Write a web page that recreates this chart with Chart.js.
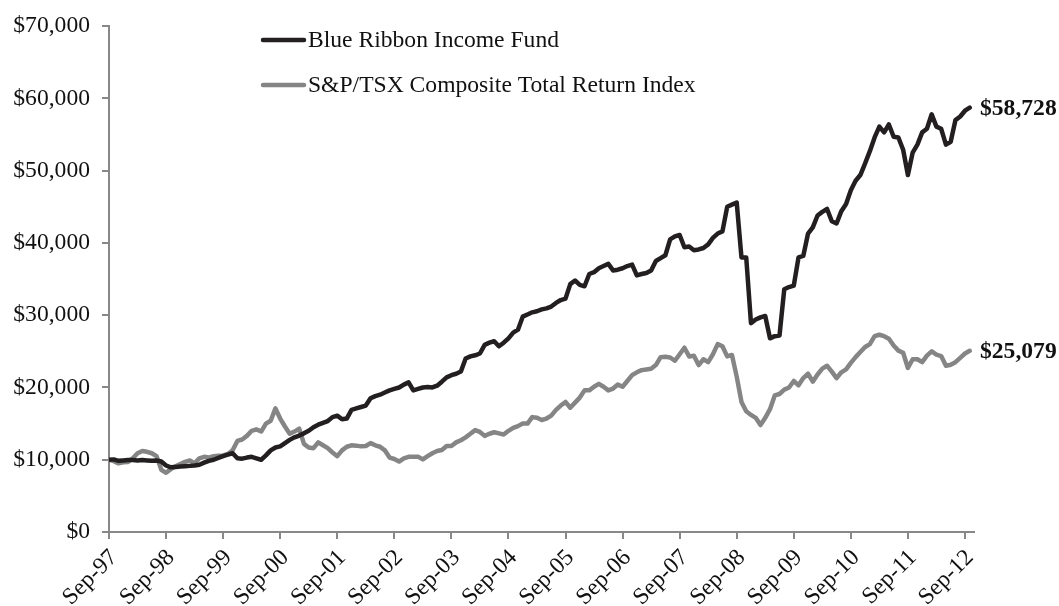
<!DOCTYPE html>
<html>
<head>
<meta charset="utf-8">
<script src="https://cdn.jsdelivr.net/npm/chart.js@4.4.1/dist/chart.umd.min.js"></script>
<style>
html,body{margin:0;padding:0;background:#fff;}
#wrap{width:1059px;height:606px;position:relative;}
</style>
</head>
<body>
<div id="wrap"><canvas id="c" width="1059" height="606"></canvas></div>
<script>
// Monthly values, Sep-97 .. Oct-12
const seriesNames = ['Blue Ribbon Income Fund', 'S&P/TSX Composite Total Return Index'];
const tickLabels = ['Sep-97','Sep-98','Sep-99','Sep-00','Sep-01','Sep-02','Sep-03','Sep-04','Sep-05','Sep-06','Sep-07','Sep-08','Sep-09','Sep-10','Sep-11','Sep-12'];
const fundValues = [
10000,10050,9850,9900,9950,9950,9900,9950,9900,9850,9900,9750,
9200,8950,9000,9050,9100,9150,9200,9300,9600,9850,10000,10250,
10500,10700,10900,10200,10150,10300,10400,10200,10000,10600,11300,11700,
11850,12300,12750,13100,13350,13650,14000,14500,14850,15100,15350,15900,
16100,15600,15700,16900,17100,17300,17500,18500,18800,19000,19300,19600,
19800,20000,20400,20700,19600,19800,20000,20050,20000,20250,20800,21400,
21700,21900,22200,24000,24300,24450,24700,25900,26200,26400,25700,26200,
26800,27600,28000,29800,30100,30400,30550,30800,30950,31200,31700,32100,
32300,34300,34800,34200,34000,35700,35950,36500,36800,37100,36200,36300,
36500,36800,37000,35500,35700,35850,36200,37500,37900,38300,40500,40900,
41100,39400,39500,39000,39100,39300,39800,40700,41300,41600,45000,45300,
45600,38000,38000,28900,29400,29700,29900,26800,27100,27200,33600,33900,
34100,38000,38200,41300,42150,43800,44300,44700,43000,42700,44400,45400,
47300,48600,49400,51000,52700,54600,56100,55300,56400,54700,54600,52900,
49400,52500,53600,55300,55800,57800,56100,55800,53600,54000,57000,57500,
58300,58728
];
const indexValues = [
10000,9800,9500,9650,9700,10200,10900,11200,11100,10900,10500,8600,
8200,8700,9100,9400,9700,9900,9500,10200,10400,10300,10500,10550,
10600,10800,11300,12600,12800,13300,14000,14200,13900,15000,15400,17100,
15700,14600,13600,13900,14300,12200,11700,11600,12400,12000,11600,11000,
10500,11300,11800,12000,11950,11850,11900,12300,12000,11800,11300,10300,
10100,9750,10200,10400,10400,10400,10050,10500,10900,11200,11350,11900,
11900,12400,12700,13100,13600,14100,13850,13300,13600,13800,13650,13500,
14000,14400,14650,15000,15000,15900,15800,15500,15700,16100,16900,17500,
18000,17200,17900,18600,19600,19600,20100,20500,20100,19600,19850,20400,
20100,20900,21700,22100,22400,22500,22600,23100,24200,24250,24150,23700,
24600,25500,24300,24400,23100,23900,23500,24600,26000,25700,24300,24500,
21500,18000,16700,16200,15800,14800,15800,17000,18900,19100,19700,20000,
20900,20300,21300,21900,20800,21800,22600,23000,22200,21300,22100,22500,
23400,24200,24900,25600,26000,27100,27300,27100,26750,25800,25100,24800,
22700,23900,23900,23500,24400,25000,24550,24350,23000,23150,23500,24100,
24700,25079
];
const endLabels = ['$58,728', '$25,079'];

const FONT = "'Liberation Serif', 'Times New Roman', serif";
const FS = 23.6;
const colors = ['#231f20', '#858585'];

const toPoints = arr => arr.map((v, i) => ({x: i, y: v}));

const overlay = {
  id: 'overlay',
  afterDraw(chart) {
    const ctx = chart.ctx;
    const ys = chart.scales.y;
    ctx.save();
    const rows = [40, 85];
    seriesNames.forEach((name, i) => {
      ctx.strokeStyle = colors[i];
      ctx.lineWidth = 4.5;
      ctx.lineCap = 'round';
      ctx.beginPath();
      ctx.moveTo(263, rows[i]);
      ctx.lineTo(304, rows[i]);
      ctx.stroke();
      ctx.fillStyle = '#111';
      ctx.font = FS + 'px ' + FONT;
      ctx.textBaseline = 'middle';
      ctx.textAlign = 'left';
      ctx.fillText(name, 308, rows[i] + 1);
    });
    const lasts = [fundValues[fundValues.length - 1], indexValues[indexValues.length - 1]];
    ctx.font = 'bold ' + FS + 'px ' + FONT;
    ctx.fillStyle = '#111';
    lasts.forEach((v, i) => {
      ctx.fillText(endLabels[i], 980, ys.getPixelForValue(v) + 1);
    });
    ctx.restore();
  }
};

new Chart(document.getElementById('c'), {
  type: 'line',
  data: {
    datasets: [
      {label: seriesNames[0], data: toPoints(fundValues), borderColor: colors[0], borderWidth: 4.5, pointRadius: 0, tension: 0, borderJoinStyle: 'round', borderCapStyle: 'round'},
      {label: seriesNames[1], data: toPoints(indexValues), borderColor: colors[1], borderWidth: 4.5, pointRadius: 0, tension: 0, borderJoinStyle: 'round', borderCapStyle: 'round'}
    ]
  },
  options: {
    responsive: false,
    animation: false,
    layout: {padding: {top: 25, right: 85, left: 0, bottom: 0}},
    plugins: {legend: {display: false}, tooltip: {enabled: false}},
    scales: {
      x: {
        type: 'linear',
        min: 0,
        max: 181.9,
        afterBuildTicks(scale) {
          scale.ticks = tickLabels.map((t, i) => ({value: i * 12}));
        },
        afterFit(scale) { scale.height = 74; },
        grid: {drawOnChartArea: false, drawTicks: true, tickLength: 7, color: '#888', lineWidth: 2},
        border: {display: true, color: '#888', width: 2},
        ticks: {
          autoSkip: false,
          maxRotation: 45,
          minRotation: 45,
          padding: 5,
          labelOffset: 5,
          color: '#111',
          font: {family: FONT, size: FS},
          callback: (v) => tickLabels[Math.round(v / 12)]
        }
      },
      y: {
        min: 0,
        max: 70000,
        afterFit(scale) { scale.width = 109; },
        grid: {drawOnChartArea: false, drawTicks: true, tickLength: 7, color: '#888', lineWidth: 2},
        border: {display: true, color: '#888', width: 2},
        ticks: {
          stepSize: 10000,
          padding: 12,
          color: '#111',
          font: {family: FONT, size: FS},
          callback: (v) => '$' + v.toLocaleString('en-US')
        }
      }
    }
  },
  plugins: [overlay]
});
</script>
</body>
</html>
